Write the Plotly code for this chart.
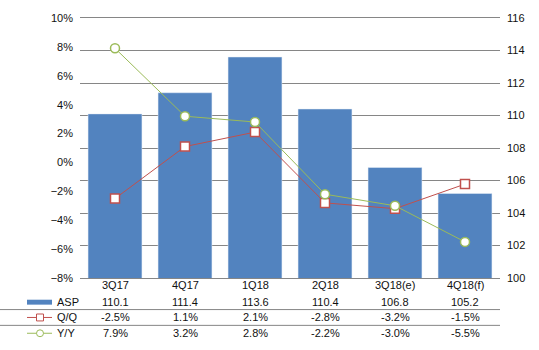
import plotly.graph_objects as go

categories = ["3Q17", "4Q17", "1Q18", "2Q18", "3Q18(e)", "4Q18(f)"]
asp = [110.1, 111.4, 113.6, 110.4, 106.8, 105.2]
qoq = [-2.5, 1.1, 2.1, -2.8, -3.2, -1.5]
yoy = [7.9, 3.2, 2.8, -2.2, -3.0, -5.5]

BLUE = "#5283BF"
RED = "#C0504D"
GREEN = "#9BBB59"
GRID = "#868686"
TXT = "#111111"
FONT = "Liberation Sans, Arial, sans-serif"

fig = go.Figure()
fig.add_trace(go.Bar(x=categories, y=asp, name="ASP", marker_color=BLUE,
                     yaxis="y", showlegend=False))
fig.add_trace(go.Scatter(x=categories, y=qoq, name="Q/Q", mode="lines+markers",
                         line=dict(color=RED, width=1),
                         marker=dict(symbol="square", size=9, color="white",
                                     line=dict(color=RED, width=1.5)),
                         yaxis="y2", showlegend=False))
fig.add_trace(go.Scatter(x=categories, y=yoy, name="Y/Y", mode="lines+markers",
                         line=dict(color=GREEN, width=1),
                         marker=dict(symbol="circle", size=9, color="white",
                                     line=dict(color=GREEN, width=1.5)),
                         yaxis="y2", showlegend=False))

PH = 263.5  # plot height in px
def py(px):
    return -px / PH

annotations = []
rows = [
    ([c for c in categories], 7),
    (["%.1f" % v for v in asp], 24),
    (["%.1f%%" % v for v in qoq], 40),
    (["%.1f%%" % v for v in yoy], 56),
]
for texts, off in rows:
    for c, t in zip(categories, texts):
        annotations.append(dict(x=c, xref="x", y=py(off), yref="paper",
                                text=t, showarrow=False, xanchor="center",
                                yanchor="middle",
                                font=dict(family=FONT, size=11, color=TXT)))
for name, off in [("ASP", 24), ("Q/Q", 40), ("Y/Y", 56)]:
    annotations.append(dict(x=-25 / 420, xref="paper", y=py(off), yref="paper",
                            text=name, showarrow=False, xanchor="left",
                            yanchor="middle",
                            font=dict(family=FONT, size=11, color=TXT)))

def px_x(p):
    return (p - 80) / 420

shapes = []
for off in [32, 48]:
    shapes.append(dict(type="line", xref="paper", yref="paper",
                       x0=px_x(0), x1=1, y0=py(off), y1=py(off),
                       line=dict(color=GRID, width=1)))
# legend keys
shapes.append(dict(type="rect", xref="paper", yref="paper",
                   x0=px_x(27), x1=px_x(52), y0=py(22), y1=py(27),
                   fillcolor=BLUE, line=dict(width=0)))
shapes.append(dict(type="line", xref="paper", yref="paper",
                   x0=px_x(27), x1=px_x(52), y0=py(40), y1=py(40),
                   line=dict(color=RED, width=1)))
shapes.append(dict(type="rect", xref="paper", yref="paper",
                   x0=px_x(36.5), x1=px_x(43.5), y0=py(36.5), y1=py(43.5),
                   fillcolor="white", line=dict(color=RED, width=1)))
shapes.append(dict(type="line", xref="paper", yref="paper",
                   x0=px_x(27), x1=px_x(52), y0=py(56), y1=py(56),
                   line=dict(color=GREEN, width=1)))
shapes.append(dict(type="circle", xref="paper", yref="paper",
                   x0=px_x(36.5), x1=px_x(43.5), y0=py(52.5), y1=py(59.5),
                   fillcolor="white", line=dict(color=GREEN, width=1)))

fig.update_layout(
    width=539, height=350,
    margin=dict(l=80, r=39, t=14.5, b=72),
    paper_bgcolor="white", plot_bgcolor="white",
    bargap=0.23,
    font=dict(family=FONT, size=11, color=TXT),
    xaxis=dict(showticklabels=False, showgrid=False, ticks="",
               showline=True, linecolor=GRID, linewidth=1, mirror=True),
    yaxis=dict(side="right", range=[100, 116], dtick=2, tick0=100,
               showgrid=True, gridcolor=GRID, gridwidth=1,
               zeroline=False, ticks="", ticklabelstandoff=6,
               tickfont=dict(family=FONT, size=11, color=TXT)),
    yaxis2=dict(side="left", overlaying="y", range=[-8, 10], dtick=2,
                tick0=-8, ticksuffix="%", showgrid=False, zeroline=False,
                ticks="", ticklabelstandoff=6,
                tickfont=dict(family=FONT, size=11, color=TXT)),
    annotations=annotations,
    shapes=shapes,
)

fig.write_html("out.html")
